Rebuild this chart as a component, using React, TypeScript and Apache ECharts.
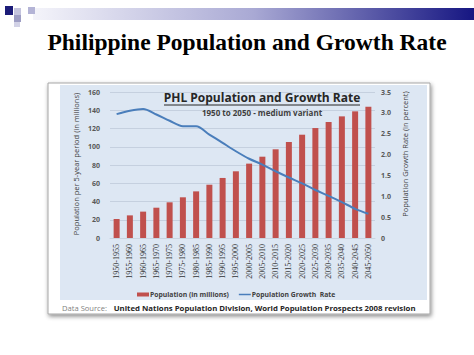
import React, { useEffect, useRef } from "react";
import * as echarts from "echarts";

const categories = [
  "1950-1955", "1955-1960", "1960-1965", "1965-1970", "1970-1975",
  "1975-1980", "1980-1985", "1985-1990", "1990-1995", "1995-2000",
  "2000-2005", "2005-2010", "2010-2015", "2015-2020", "2020-2025",
  "2025-2030", "2030-2035", "2035-2040", "2040-2045", "2045-2050",
];
const population = [
  20.8, 24.8, 28.9, 33.2, 39.1, 44.6, 51.1, 58.4, 65.8, 73.1,
  81.5, 89.1, 97.2, 105.2, 113.2, 120.5, 127.1, 133.3, 138.8, 143.9,
];
const growthRate = [
  2.97, 3.05, 3.09, 2.96, 2.81, 2.68, 2.68, 2.48, 2.28, 2.08,
  1.9, 1.76, 1.6, 1.45, 1.31, 1.15, 1.01, 0.86, 0.7, 0.58,
];
const leftTicks = { min: 0, max: 160, interval: 20 };
const rightTicks = { min: 0, max: 3.5, interval: 0.5 };

const slideTitle = "Philippine Population and Growth Rate";
const chartTitle = "PHL Population and Growth Rate";
const chartSubtitle = "1950 to 2050 - medium variant";
const leftAxisName = "Population per 5-year period (in millions)";
const rightAxisName = "Population Growth Rate (in percent)";
const sourceLabel = "Data Source:";
const sourceText = "United Nations Population Division, World Population Prospects 2008 revision";

const SANS = "'Open Sans', 'Noto Sans', sans-serif";

export default function App() {
  const ref = useRef<HTMLDivElement>(null);
  useEffect(() => {
    if (!ref.current) return;
    const chart = echarts.init(ref.current, undefined, { renderer: "svg" });
    const option: any = {
      animation: false,
      backgroundColor: "#ffffff",
      title: [
        {
          text: chartTitle,
          left: 262,
          top: 90,
          textAlign: "center",
          padding: 0,
          textStyle: { fontFamily: SANS, fontSize: 12, lineHeight: 14, fontWeight: "bold", color: "#262626" },
        },
        {
          text: chartSubtitle,
          left: 262,
          top: 107,
          textAlign: "center",
          padding: 0,
          textStyle: { fontFamily: SANS, fontSize: 8, lineHeight: 10, fontWeight: "bold", color: "#404040" },
        },
      ],
      legend: {
        left: 132,
        top: 286,
        itemWidth: 12,
        itemHeight: 4,
        itemGap: 10,
        textStyle: { fontFamily: SANS, fontSize: 6.8, fontWeight: "bold", color: "#404040", padding: [0, 0, 0, -4] },
        data: [
          { name: "Population (in millions)", icon: "rect" },
          { name: "Population Growth  Rate", icon: "path://M0,0 L12,0 L12,1.5 L0,1.5 Z" },
        ],
      },
      grid: { left: 110, right: 99, top: 92, bottom: 117, containLabel: false },
      xAxis: {
        type: "category",
        data: categories,
        axisTick: { show: false },
        axisLine: { show: true, lineStyle: { color: "#c9d3e0" } },
        axisLabel: {
          rotate: 90,
          interval: 0,
          margin: 6,
          fontFamily: "'Liberation Serif', serif",
          fontSize: 8,
          color: "#333333",
        },
      },
      yAxis: [
        {
          type: "value",
          ...leftTicks,
          axisLine: { show: false },
          axisTick: { show: false },
          axisLabel: { margin: 10, fontFamily: SANS, fontSize: 7, fontWeight: "bold", color: "#595959" },
          splitLine: { lineStyle: { color: "#c5d0df", width: 1 } },
        },
        {
          type: "value",
          ...rightTicks,
          axisLine: { show: false },
          axisTick: { show: false },
          axisLabel: {
            margin: 6,
            fontFamily: SANS,
            fontSize: 7,
            fontWeight: "bold",
            color: "#595959",
            formatter: (v: number) => (v === 0 ? "0" : v.toFixed(1)),
          },
          splitLine: { show: false },
        },
      ],
      series: [
        {
          name: "Population (in millions)",
          type: "bar",
          data: population,
          barWidth: 6,
          itemStyle: { color: "#c0504d" },
          z: 2,
        },
        {
          name: "Population Growth  Rate",
          type: "line",
          yAxisIndex: 1,
          data: growthRate,
          smooth: 0.3,
          symbol: "none",
          lineStyle: { color: "#4a7ebb", width: 2 },
          itemStyle: { color: "#4a7ebb" },
          z: 3,
        },
      ],
      graphic: [
        // top decoration band
        {
          type: "rect",
          z: -10,
          shape: { x: 33, y: 8, width: 441, height: 12 },
          style: {
            fill: new echarts.graphic.LinearGradient(0, 0, 1, 0, [
              { offset: 0, color: "#f4f4fa" },
              { offset: 0.5, color: "#a9a9d4" },
              { offset: 1, color: "#161682" },
            ]),
          },
        },
        { type: "rect", z: -9, shape: { x: 5, y: 6, width: 8, height: 9 }, style: { fill: "#1c1c78" } },
        { type: "rect", z: -9, shape: { x: 14, y: 8, width: 7, height: 7 }, style: { fill: "#c4c4de" } },
        { type: "rect", z: -9, shape: { x: 28, y: 7, width: 7, height: 7 }, style: { fill: "#b4b4d6" } },
        { type: "rect", z: -9, shape: { x: 14, y: 15, width: 7, height: 7 }, style: { fill: "#9e9ec4" } },
        { type: "rect", z: -9, shape: { x: 14, y: 22, width: 6, height: 5 }, style: { fill: "#d2d2e6" } },
        // slide title
        {
          type: "text",
          x: 247,
          y: 42,
          style: {
            text: slideTitle,
            align: "center",
            verticalAlign: "middle",
            fontFamily: "'Liberation Serif', 'Times New Roman', serif",
            fontWeight: "bold",
            fontSize: 23.5,
            fill: "#000000",
          },
        },
        // frame
        {
          type: "rect",
          z: -8,
          shape: { x: 48, y: 83, width: 382, height: 231 },
          style: {
            fill: "#ffffff",
            stroke: "#a6a6a6",
            lineWidth: 1,
            shadowBlur: 4,
            shadowOffsetX: 1,
            shadowOffsetY: 2,
            shadowColor: "rgba(0,0,0,0.45)",
          },
        },
        {
          type: "rect",
          z: -7,
          shape: { x: 60, y: 85, width: 367, height: 215 },
          style: { fill: "#dde7f3" },
        },
        // title underline
        {
          type: "line",
          z: 5,
          shape: { x1: 164, y1: 105, x2: 360, y2: 105 },
          style: { stroke: "#262626", lineWidth: 1 },
        },
        // axis names
        {
          type: "text",
          x: 76,
          y: 164,
          rotation: Math.PI / 2,
          style: {
            text: leftAxisName,
            align: "center",
            verticalAlign: "middle",
            fontFamily: SANS,
            fontSize: 7.5,
            fill: "#404040",
          },
        },
        {
          type: "text",
          x: 405,
          y: 154,
          rotation: Math.PI / 2,
          style: {
            text: rightAxisName,
            align: "center",
            verticalAlign: "middle",
            fontFamily: SANS,
            fontSize: 7.5,
            fill: "#404040",
          },
        },
        // data source
        {
          type: "text",
          x: 62,
          y: 308,
          style: {
            text: "{a|" + sourceLabel + "}  {b|" + sourceText + "}",
            verticalAlign: "middle",
            rich: {
              a: { fontFamily: SANS, fontSize: 7.6, fill: "#7f7f7f", color: "#7f7f7f" },
              b: { fontFamily: SANS, fontSize: 7.8, fontWeight: "bold", fill: "#262626", color: "#262626" },
            },
          },
        },
      ],
    };
    chart.setOption(option);
    return () => chart.dispose();
  }, []);
  return (
    <div
      ref={ref}
      style={{ position: "absolute", left: 0, top: 0, width: 474, height: 355 }}
    />
  );
}
